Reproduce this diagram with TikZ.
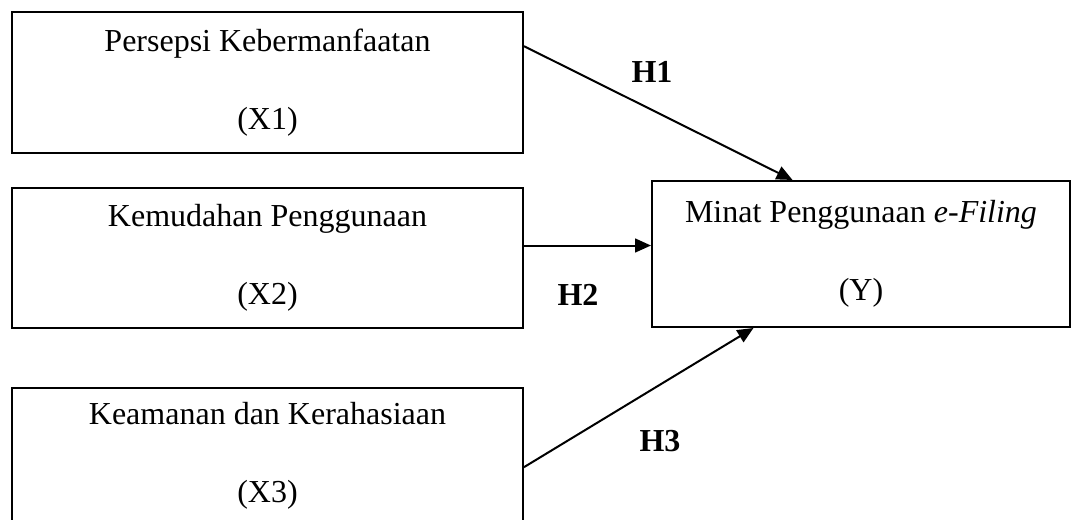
\documentclass[tikz,border=0pt]{standalone}
\usepackage{fontspec}
\setmainfont{Liberation Serif}
\usepackage{tikz}
\usetikzlibrary{
  positioning,
  calc,
  arrows.meta
}
\tikzstyle{varbox}=[draw, line width=0.75pt, inner sep=0pt, align=center, minimum width=191.6pt, font=\fontsize{12}{29.25}\selectfont]
\tikzstyle{hyp}=[inner sep=0pt, font=\fontsize{12}{14}\selectfont\bfseries]
\tikzstyle{arr}=[-{Triangle[length=6pt, width=5.2pt]}, line width=0.75pt]

\begin{document}
\begin{tikzpicture}[x=0.375pt, y=-0.375pt]
        % 描画範囲
        \clip (0,0) rectangle (1072,520);

        % 独立変数のボックス
        \node[varbox, minimum height=52.9pt] (x1) at (267.5,82.5) {Persepsi Kebermanfaatan\\(X1)};
        \node[varbox, minimum height=52.5pt] (x2) at (267.5,258) {Kemudahan Penggunaan\\(X2)};
        \node[varbox, minimum height=51pt] (x3) at (267.5,456) {Keamanan dan Kerahasiaan\\(X3)};

        % 従属変数のボックス
        \node[varbox, minimum width=156.75pt, minimum height=54.75pt] (y) at (861,254) {Minat Penggunaan \textit{e-Filing}\\(Y)};

        % 矢印の端点
        \coordinate (h1s) at ($(x1.north east)!0.246!(x1.south east)$);
        \coordinate (h1e) at ($(y.north west)!0.337!(y.north east)$);
        \coordinate (h2s) at ($(x2.north east)!0.412!(x2.south east)$);
        \coordinate (h2e) at (y.west |- h2s);
        \coordinate (h3s) at ($(x3.north east)!0.581!(x3.south east)$);
        \coordinate (h3e) at ($(y.south west)!0.244!(y.south east)$);

        % 仮説の矢印
        \draw[arr] (h1s) -- (h1e);
        \draw[arr] (h2s) -- (h2e);
        \draw[arr] (h3s) -- (h3e);

        % 仮説のラベル
        \node[hyp] (lh1) at (652,72) {H1};
        \node[hyp] (lh2) at (578,295) {H2};
        \node[hyp] (lh3) at (660,441) {H3};
\end{tikzpicture}
\end{document}
